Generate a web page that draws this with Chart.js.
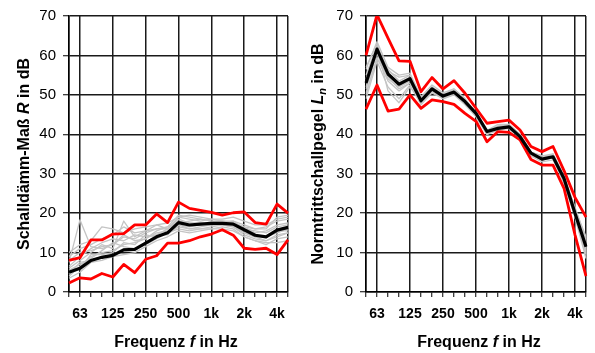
<!DOCTYPE html>
<html>
<head>
<meta charset="utf-8">
<script src="https://cdn.jsdelivr.net/npm/chart.js@4"></script>
<style>
  html, body { margin: 0; padding: 0; background: #fff; }
  #wrap { position: relative; width: 595px; height: 353px; }
  canvas { position: absolute; top: 0; }
</style>
</head>
<body>
<div id="wrap">
  <canvas id="chartR" width="297" height="353" style="left:0"></canvas>
  <canvas id="chartLn" width="298" height="353" style="left:297px"></canvas>
</div>
<script>
// third-octave bands, only the octaves get a label
const bands = ['50', '63', '80', '100', '125', '160', '200', '250', '315', '400', '500',
  '630', '800', '1k', '1.25k', '1.6k', '2k', '2.5k', '3.15k', '4k', '5k'];
const tickLabels = ['63', '125', '250', '500', '1k', '2k', '4k'];

// Schalldämm-Maß R (left)
const rMean = [5.0, 6.0, 8.0, 8.8, 9.3, 10.7, 10.8, 12.4, 14.0, 15.0, 17.6, 17.0, 17.2, 17.4, 17.4, 17.2, 15.8, 14.4, 14.0, 15.7, 16.4];
const rMax = [8.0, 8.7, 13.2, 13.2, 14.7, 14.8, 17.0, 17.0, 19.8, 17.6, 22.8, 21.2, 20.7, 20.2, 19.5, 20.1, 20.3, 17.6, 17.2, 22.3, 20.0];
const rMin = [2.3, 3.6, 3.3, 4.7, 3.8, 7.0, 4.9, 8.3, 9.2, 12.4, 12.4, 13.0, 14.0, 14.7, 15.8, 14.4, 11.1, 10.8, 11.1, 9.5, 13.2];
const rSingle = [
  [7.5, 18.3, 11.5, 11.0, 12.0, 14.0, 13.5, 15.0, 16.0, 16.5, 19.5, 19.0, 18.5, 18.0, 18.0, 17.5, 16.5, 16.0, 16.5, 18.0, 18.5],
  [10.0, 12.0, 13.0, 16.5, 16.0, 15.0, 16.0, 16.5, 17.0, 17.5, 19.0, 18.5, 18.0, 18.5, 18.0, 18.0, 17.0, 16.0, 16.0, 19.0, 19.5],
  [6.0, 8.0, 10.0, 12.0, 11.0, 18.0, 14.0, 15.5, 16.0, 16.0, 18.0, 17.5, 17.5, 17.0, 17.0, 17.0, 15.0, 14.0, 13.0, 14.5, 15.0],
  [4.0, 6.5, 9.0, 10.0, 10.5, 12.0, 12.5, 13.5, 15.0, 15.5, 17.0, 16.0, 16.5, 17.0, 17.5, 17.0, 15.5, 14.5, 14.0, 15.0, 16.0],
  [5.5, 7.0, 8.5, 10.5, 12.5, 11.5, 11.0, 12.0, 13.5, 15.0, 16.5, 16.0, 16.0, 16.5, 17.0, 16.5, 14.5, 13.5, 13.0, 14.0, 15.0],
  [6.5, 9.0, 11.0, 12.5, 13.5, 13.0, 14.5, 14.0, 14.5, 16.0, 18.5, 17.5, 17.0, 17.5, 18.0, 17.5, 16.5, 15.0, 15.5, 17.0, 17.5],
  [3.5, 5.0, 7.5, 8.0, 9.0, 9.5, 10.0, 11.5, 13.0, 14.0, 15.5, 15.0, 15.5, 16.0, 16.5, 16.0, 14.0, 13.0, 12.5, 12.5, 13.0],
  [8.0, 10.0, 10.5, 11.5, 12.0, 14.5, 13.0, 13.5, 15.5, 16.5, 17.5, 18.0, 18.5, 18.0, 17.5, 18.0, 16.0, 15.5, 15.0, 16.5, 17.0],
  [5.0, 6.0, 9.5, 9.5, 10.0, 12.5, 12.0, 14.5, 14.0, 15.0, 16.0, 15.5, 16.0, 16.0, 16.0, 15.5, 14.0, 13.0, 12.0, 13.5, 14.0],
  [9.0, 11.0, 12.0, 13.5, 14.5, 16.5, 15.0, 15.5, 17.0, 16.0, 19.0, 19.5, 19.0, 18.5, 18.5, 19.0, 18.0, 17.0, 17.0, 18.5, 19.0],
  [4.5, 7.5, 8.0, 9.0, 9.5, 11.0, 10.5, 12.5, 14.5, 14.5, 17.0, 16.5, 17.0, 17.0, 17.0, 16.5, 15.0, 14.0, 14.0, 15.5, 15.5]
];

// Normtrittschallpegel Ln (right)
const lnMean = [53.0, 61.6, 55.3, 52.7, 54.1, 48.5, 51.5, 49.7, 50.7, 48.3, 45.3, 40.7, 41.5, 41.9, 39.4, 35.2, 33.7, 34.3, 28.8, 20.0, 11.5];
const lnMax = [60.0, 70.3, 64.4, 58.6, 58.5, 50.8, 54.4, 51.5, 53.6, 50.4, 46.6, 42.8, 43.2, 43.6, 41.1, 36.9, 35.6, 36.9, 30.8, 24.0, 19.0];
const lnMin = [46.4, 52.5, 45.9, 46.4, 50.0, 46.6, 48.7, 48.3, 47.6, 45.3, 43.3, 38.1, 40.7, 40.5, 38.6, 33.6, 32.2, 32.2, 26.3, 14.5, 4.0];
const lnSingle = [
  [56.5, 63.5, 57.0, 55.0, 55.5, 49.5, 52.5, 50.5, 51.5, 49.0, 45.5, 41.0, 42.5, 42.5, 40.0, 35.5, 34.5, 35.0, 29.5, 21.5, 13.5],
  [55.0, 62.5, 56.0, 54.5, 55.0, 49.0, 52.0, 50.0, 51.0, 48.5, 45.0, 40.5, 42.0, 42.0, 40.0, 35.5, 34.0, 34.5, 29.0, 21.0, 13.0],
  [52.0, 61.0, 55.0, 53.0, 54.5, 48.0, 51.0, 49.5, 50.5, 48.0, 45.5, 40.0, 41.5, 41.5, 39.5, 35.0, 33.5, 34.0, 28.0, 19.5, 10.5],
  [50.0, 59.5, 53.5, 51.0, 53.0, 48.5, 51.5, 49.5, 50.0, 48.5, 45.0, 41.0, 42.0, 41.5, 39.0, 34.5, 33.0, 33.5, 28.0, 19.0, 9.5],
  [49.0, 58.5, 52.0, 49.0, 52.5, 47.5, 50.5, 49.0, 50.0, 47.5, 44.5, 40.0, 41.0, 41.5, 39.0, 34.5, 33.5, 34.0, 27.5, 19.0, 8.5],
  [54.0, 62.0, 56.5, 53.5, 55.0, 49.0, 51.5, 50.0, 51.0, 48.5, 45.0, 40.5, 42.0, 42.0, 40.0, 35.5, 34.0, 35.0, 29.0, 20.5, 12.0],
  [51.5, 60.5, 54.0, 52.0, 53.5, 48.0, 51.0, 49.0, 50.5, 48.0, 44.5, 40.0, 41.5, 42.0, 39.5, 35.0, 33.5, 34.0, 28.5, 20.0, 11.0],
  [53.5, 62.0, 51.0, 48.0, 52.0, 48.5, 52.0, 50.0, 51.5, 49.0, 45.0, 41.0, 42.0, 42.5, 40.0, 35.0, 34.0, 34.5, 28.5, 20.5, 12.5],
  [50.5, 59.0, 55.5, 53.0, 54.0, 48.0, 51.0, 49.5, 50.5, 48.0, 45.0, 40.5, 41.5, 41.5, 39.5, 35.0, 33.5, 34.0, 28.0, 19.5, 10.0],
  [57.0, 63.0, 54.5, 51.5, 53.0, 49.0, 51.5, 50.0, 51.0, 48.5, 45.5, 40.5, 42.0, 42.5, 39.5, 35.5, 34.5, 34.5, 29.0, 21.0, 14.0]
];

const FONT = "'Liberation Sans', Arial, sans-serif";
Chart.defaults.font.family = FONT;
Chart.defaults.color = '#000';

// grid lines only on octaves (+ both edges), tick marks on every band
const gridIdx = [0, 1, 4, 7, 10, 13, 16, 19, 20];

// draws a title made of parts with different styles (italic symbols, subscript)
function drawParts(ctx, parts, x, y, vertical) {
  ctx.save();
  let total = 0;
  parts.forEach(p => {
    ctx.font = p.font;
    p.w = ctx.measureText(p.text).width;
    total += p.w;
  });
  ctx.translate(x, y);
  if (vertical) ctx.rotate(-Math.PI / 2);
  ctx.textBaseline = 'middle';
  ctx.textAlign = 'left';
  ctx.fillStyle = '#000';
  let pos = -total / 2;
  parts.forEach(p => {
    ctx.font = p.font;
    ctx.fillText(p.text, pos, p.dy || 0);
    pos += p.w;
  });
  ctx.restore();
}

const B = 'bold 16px ' + FONT;
const BI = 'italic bold 16px ' + FONT;
const xTitle = [{ text: 'Frequenz ', font: B }, { text: 'f', font: BI }, { text: ' in Hz', font: B }];

const titlePlugin = {
  id: 'mixedTitles',
  afterDraw(chart, args, opts) {
    const area = chart.chartArea;
    drawParts(chart.ctx, opts.yParts, opts.yX, (area.top + area.bottom) / 2, true);
    drawParts(chart.ctx, xTitle, opts.xX, 343, false);
  }
};

function makeChart(id, mean, max, min, singles, titleOpts, padRight) {
  const datasets = [
    { data: mean, borderColor: '#000', borderWidth: 3.2, order: 0 },
    { data: max, borderColor: '#ff0000', borderWidth: 2.8, order: 1 },
    { data: min, borderColor: '#ff0000', borderWidth: 2.8, order: 1 }
  ];
  singles.forEach(s => {
    datasets.push({ data: s, borderColor: '#c4c4c4', borderWidth: 1.3, order: 2 });
  });

  return new Chart(document.getElementById(id), {
    type: 'line',
    data: { labels: bands, datasets: datasets },
    options: {
      responsive: false,
      animation: false,
      devicePixelRatio: 1,
      layout: { padding: { top: 15, right: padRight, left: 0, bottom: 0 } },
      elements: { point: { radius: 0 }, line: { tension: 0, borderJoinStyle: 'round' } },
      plugins: { legend: { display: false }, tooltip: { enabled: false }, mixedTitles: titleOpts },
      scales: {
        x: {
          offset: false,
          grid: {
            offset: false,
            color: c => gridIdx.includes(c.index) ? '#1a1a1a' : 'rgba(0,0,0,0)',
            lineWidth: 1.5,
            tickColor: '#000',
            tickWidth: 1,
            tickLength: 5
          },
          border: { color: '#000', width: 1.5 },
          ticks: {
            autoSkip: false,
            maxRotation: 0,
            padding: 9,
            font: { size: 14, weight: 'bold' },
            callback: function (v) {
              const l = this.getLabelForValue(v);
              return tickLabels.includes(l) ? l : '';
            }
          },
          afterFit: s => { s.height = 353 - 292; }
        },
        y: {
          min: 0,
          max: 70,
          grid: { color: '#1a1a1a', lineWidth: 1.5, tickColor: '#000', tickWidth: 1, tickLength: 6 },
          border: { color: '#000', width: 1.5 },
          ticks: { stepSize: 10, padding: 7, font: { size: 15 } },
          afterFit: s => { s.width = 69; }
        }
      }
    },
    plugins: [titlePlugin]
  });
}

makeChart('chartR', rMean, rMax, rMin, rSingle, {
  yX: 25, xX: 176,
  yParts: [
    { text: 'Schalldämm-Maß ', font: B },
    { text: 'R', font: BI },
    { text: ' in dB', font: B }
  ]
}, 2);

makeChart('chartLn', lnMean, lnMax, lnMin, lnSingle, {
  yX: 22, xX: 182,
  yParts: [
    { text: 'Normtrittschallpegel ', font: B },
    { text: 'L', font: BI },
    { text: 'n', font: 'italic bold 11px ' + FONT, dy: 4 },
    { text: ' in dB', font: B }
  ]
}, 4);
</script>
</body>
</html>
